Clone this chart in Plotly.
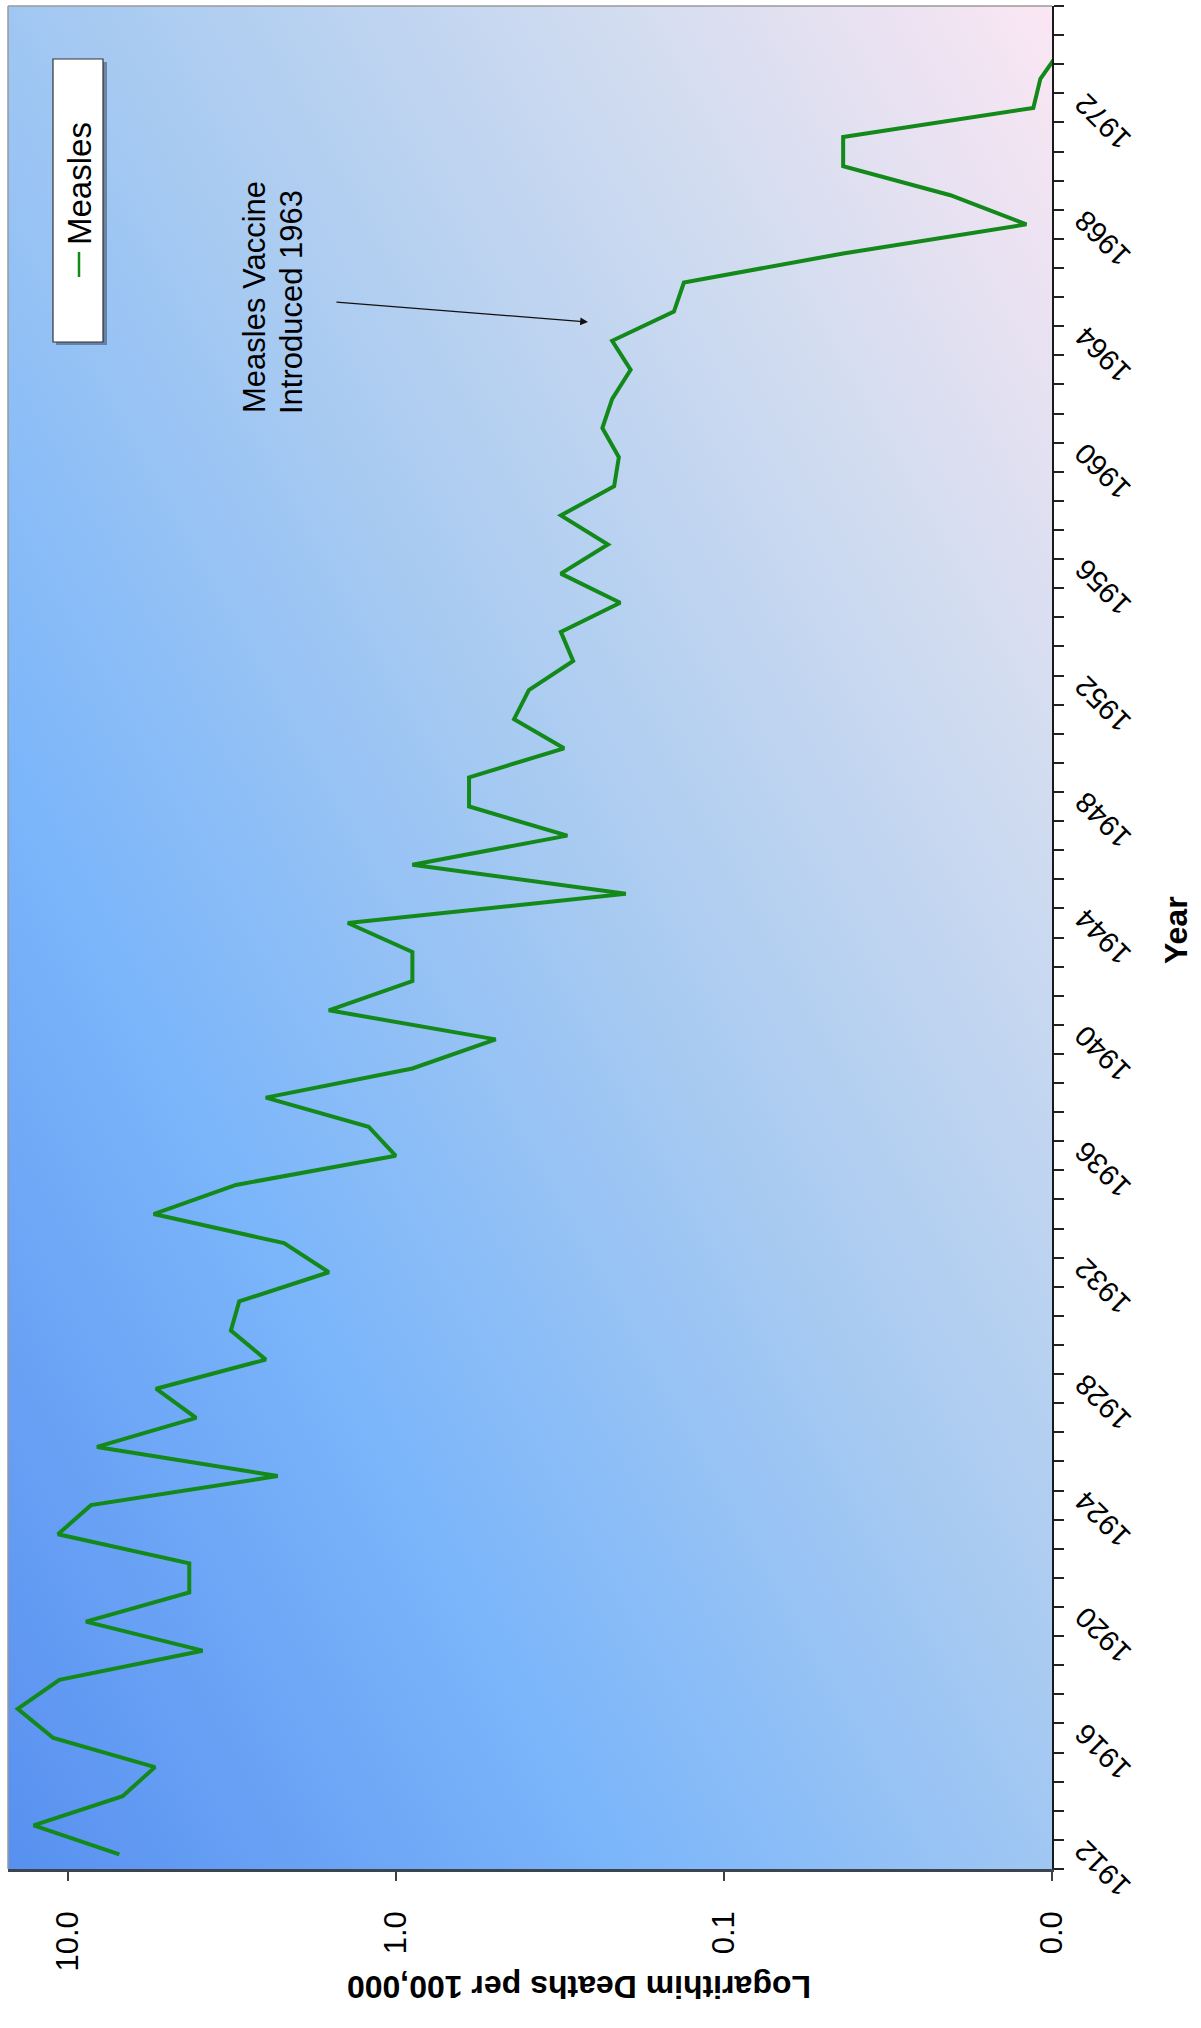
import base64
import math
import plotly.graph_objects as go

# ---------------- data ----------------
years = list(range(1912, 1975))
death_rate = [6.96, 12.7, 6.80, 5.42, 11.06, 14.2, 10.6, 3.88, 8.80, 4.26,
              4.26, 10.7, 8.49, 2.29, 8.14, 4.06, 5.38, 2.49, 3.18, 3.00,
              1.60, 2.19, 5.47, 3.07, 1.00, 1.21, 2.49, 0.89, 0.496, 1.60,
              0.89, 0.89, 1.40, 0.199, 0.89, 0.30, 0.598, 0.598, 0.307, 0.436,
              0.393, 0.288, 0.314, 0.207, 0.314, 0.2256, 0.314, 0.216, 0.209, 0.2346,
              0.219, 0.1924, 0.219, 0.142, 0.1324, 0.0433, 0.01197, 0.0204, 0.0433, 0.0433,
              0.0114, 0.01085, 0.0094]
year_ticks = list(range(1912, 1975, 4))
rate_tickvals = [10, 1, 0.1, 0.01]
rate_ticktext = ["10.0", "1.0", "0.1", "0.0"]
series_name = "Measles"

# ---------------- layout geometry (pixels) ----------------
W, H = 1201, 2028
L, R, T, B = 8, 1052, 6, 1869
Y0, Y1 = 1911.5, 1975.5


def px(x):
    return (x - L) / (R - L)


def py(y):
    return (B - y) / (B - T)


FONT = "Liberation Sans, Arial, sans-serif"

svg = f'''<svg xmlns="http://www.w3.org/2000/svg" width="{R-L}" height="{B-T}" viewBox="0 0 {R-L} {B-T}" preserveAspectRatio="none">
<defs><linearGradient id="g" x1="0" y1="1" x2="1" y2="0">
<stop offset="0" stop-color="#5890f0"/>
<stop offset="0.3" stop-color="#7cb6fa"/>
<stop offset="0.55" stop-color="#a9cbf1"/>
<stop offset="0.8" stop-color="#d4ddf0"/>
<stop offset="1" stop-color="#fbe6f3"/>
</linearGradient></defs>
<rect x="0" y="0" width="{R-L}" height="{B-T}" fill="url(#g)"/></svg>'''
svg_uri = "data:image/svg+xml;base64," + base64.b64encode(svg.encode()).decode()

fig = go.Figure()
fig.add_trace(go.Scatter(
    x=death_rate, y=years, mode="lines", name=series_name,
    line=dict(color="#13891a", width=4), showlegend=False,
))

fig.update_layout(
    width=W, height=H,
    margin=dict(l=L, r=W - R, t=T, b=H - B, pad=0),
    paper_bgcolor="white",
    plot_bgcolor="rgba(0,0,0,0)",
    font=dict(family=FONT, color="black"),
    showlegend=False,
    images=[dict(source=svg_uri, xref="paper", yref="paper", x=0, y=1,
                 sizex=1, sizey=1, sizing="stretch", layer="below",
                 xanchor="left", yanchor="top")],
)

fig.update_xaxes(
    type="log", range=[math.log10(15.2), -2],
    tickvals=rate_tickvals, ticktext=rate_ticktext,
    tickangle=-90, tickfont=dict(size=31, family=FONT),
    ticks="outside", ticklen=9, tickwidth=1.5, tickcolor="#404040",
    ticklabelstandoff=18,
    showline=True, linecolor="#3c4450", linewidth=2.5,
    showgrid=False, zeroline=False,
)
fig.update_yaxes(
    side="right", range=[Y0, Y1],
    tickvals=year_ticks, showticklabels=False, ticks="",
    minor=dict(tick0=Y0, dtick=1, ticks="outside", ticklen=10,
               tickwidth=1.5, tickcolor="#222", showgrid=False),
    showline=True, linecolor="#1a1a1a", linewidth=1.5,
    showgrid=False, zeroline=False,
)

shapes = [
    dict(type="line", xref="paper", yref="paper", x0=0, x1=1, y0=1, y1=1,
         line=dict(color="#9a9a9a", width=1.5)),
    dict(type="line", xref="paper", yref="paper", x0=0, x1=0, y0=0, y1=1,
         line=dict(color="#9a9a9a", width=1.5)),
    dict(type="rect", xref="paper", yref="paper",
         x0=px(56), x1=px(107), y0=py(345), y1=py(62),
         fillcolor="rgba(40,50,70,0.45)", line=dict(width=0)),
    dict(type="rect", xref="paper", yref="paper",
         x0=px(53), x1=px(103), y0=py(342), y1=py(59),
         fillcolor="white", line=dict(color="#333", width=1.2)),
    dict(type="line", xref="paper", yref="paper",
         x0=px(79), x1=px(79), y0=py(277), y1=py(252),
         line=dict(color="#13891a", width=2.5)),
]
fig.update_layout(shapes=shapes)

# rotated year labels (upside-down, as in the rotated original)
year_px_per = (B - T) / (Y1 - Y0)
annotations = []
for yr in year_ticks:
    ycen = B - (yr - Y0) * year_px_per + 14
    annotations.append(dict(
        text=str(yr), xref="paper", yref="paper", x=px(1103), y=py(ycen),
        textangle=-135, showarrow=False, font=dict(size=29, family=FONT),
        xanchor="center", yanchor="middle"))

annotations += [
    dict(text=series_name, xref="paper", yref="paper", x=px(80), y=py(184),
         textangle=-90, showarrow=False, font=dict(size=33, family=FONT),
         xanchor="center", yanchor="middle"),
    dict(text="Measles Vaccine", xref="paper", yref="paper", x=px(254), y=py(297),
         textangle=-90, showarrow=False, font=dict(size=31, family=FONT),
         xanchor="center", yanchor="middle"),
    dict(text="Introduced 1963", xref="paper", yref="paper", x=px(291), y=py(302),
         textangle=-90, showarrow=False, font=dict(size=31, family=FONT),
         xanchor="center", yanchor="middle"),
    dict(text="", xref="paper", yref="paper", x=px(588), y=py(322),
         ax=-253, ay=-20, showarrow=True, arrowhead=2, arrowsize=1.2,
         arrowwidth=1.3, arrowcolor="#111", standoff=0),
    dict(text="<b>Year</b>", xref="paper", yref="paper", x=px(1176), y=py(930),
         textangle=-90, showarrow=False, font=dict(size=32, family=FONT),
         xanchor="center", yanchor="middle"),
    dict(text="<b>Logarithim Deaths per 100,000</b>", xref="paper", yref="paper",
         x=px(579), y=py(1987), textangle=180, showarrow=False,
         font=dict(size=32, family=FONT), xanchor="center", yanchor="middle"),
]
fig.update_layout(annotations=annotations)

fig.write_html("out.html", config={"displayModeBar": False},
               post_script="document.body.style.margin='0';")
